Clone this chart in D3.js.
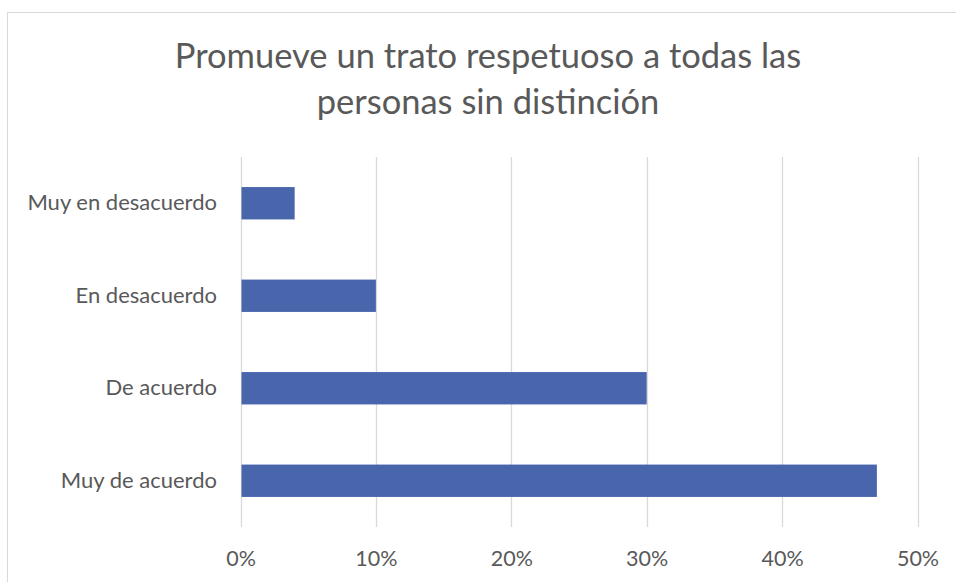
<!DOCTYPE html>
<html><head><meta charset="utf-8">
<script src="https://cdn.jsdelivr.net/npm/d3@7"></script>
<style>body{margin:0;background:#fff}svg{display:block}text{font-family:Lato,sans-serif;fill:#595959}</style>
</head><body>
<svg id="c" width="956" height="582"></svg>
<script>
const categories = ["Muy en desacuerdo","En desacuerdo","De acuerdo","Muy de acuerdo"];
const values = [0.04, 0.10, 0.30, 0.47];
const tickValues = [0, 0.1, 0.2, 0.3, 0.4, 0.5];
const titleLines = ["Promueve un trato respetuoso a todas las","personas sin distinción"];

const svg = d3.select("#c");
svg.append("rect").attr("x",7.5).attr("y",12.5).attr("width",1000).attr("height",1000)
  .attr("fill","none").attr("stroke","#d9d9d9");

const x = d3.scaleLinear().domain([0,0.5]).range([240.5, 917.5]);
const y = d3.scaleBand().domain(categories).range([157, 527]).paddingInner(0.65).paddingOuter(0.325);

svg.append("g").selectAll("line").data(tickValues).join("line")
  .attr("x1",d=>Math.round(x(d))+0.5).attr("x2",d=>Math.round(x(d))+0.5)
  .attr("y1",157).attr("y2",527).attr("stroke","#d9d9d9").attr("stroke-width",1.3);

svg.append("g").selectAll("rect").data(categories).join("rect")
  .attr("x",x(0)+1).attr("y",d=>y(d)).attr("height",y.bandwidth())
  .attr("width",(d,i)=>x(values[i])-x(0)-1).attr("fill","#4966ad");

const xa = d3.axisBottom(x).tickValues(tickValues).tickFormat(d3.format(".0%")).tickSize(0).tickPadding(0);
const gx = svg.append("g").attr("transform","translate(0,547)").call(xa);
gx.select(".domain").remove();
gx.selectAll("text").attr("font-size",21.5).attr("dy","0.9em").style("font-family","Lato").attr("fill","#595959");

const ya = d3.axisLeft(y).tickSize(0).tickPadding(0);
const gy = svg.append("g").attr("transform","translate(217,0)").call(ya);
gy.select(".domain").remove();
gy.selectAll("text").attr("font-size",22).style("font-family","Lato").attr("fill","#595959");

svg.append("g").selectAll("text").data(titleLines).join("text")
  .attr("x",488).attr("y",(d,i)=>68+i*46).attr("text-anchor","middle")
  .attr("font-size",34.5).text(d=>d);
</script>
</body></html>
